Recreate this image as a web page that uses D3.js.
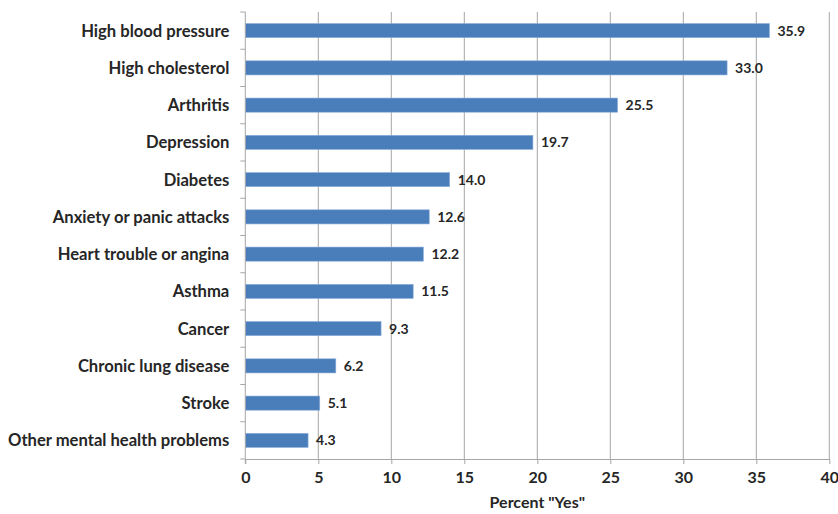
<!DOCTYPE html>
<html>
<head>
<meta charset="utf-8">
<script src="https://cdn.jsdelivr.net/npm/d3@7"></script>
<style>
  html, body { margin: 0; padding: 0; background: #fff; }
  svg text { font-family: Lato, "Open Sans", sans-serif; font-weight: 700; fill: #262626; }
</style>
</head>
<body>
<svg id="chart" width="838" height="514"></svg>
<script>
const categories = [
  "High blood pressure", "High cholesterol", "Arthritis", "Depression", "Diabetes",
  "Anxiety or panic attacks", "Heart trouble or angina", "Asthma", "Cancer",
  "Chronic lung disease", "Stroke", "Other mental health problems"
];
const values = [35.9, 33.0, 25.5, 19.7, 14.0, 12.6, 12.2, 11.5, 9.3, 6.2, 5.1, 4.3];
const xTicks = [0, 5, 10, 15, 20, 25, 30, 35, 40];
const xTitle = 'Percent "Yes"';

const svg = d3.select("#chart");
const margin = { left: 245.3, right: 838 - 829.3, top: 12, bottom: 514 - 459 };
const W = 838, H = 514;

const x = d3.scaleLinear().domain([0, 40]).range([margin.left, W - margin.right]);
const y = d3.scaleBand().domain(categories).range([margin.top, H - margin.bottom]).paddingInner(0.62).paddingOuter(0.31);

const gridColor = "#a6a6a6";

// vertical gridlines
svg.append("g").selectAll("line").data(xTicks.filter(d => d > 0)).join("line")
  .attr("x1", d => x(d)).attr("x2", d => x(d))
  .attr("y1", margin.top).attr("y2", H - margin.bottom)
  .attr("stroke", gridColor).attr("stroke-width", 1);

// bars
svg.append("g").selectAll("rect").data(values).join("rect")
  .attr("x", x(0))
  .attr("y", (d, i) => y(categories[i]))
  .attr("width", d => x(d) - x(0))
  .attr("height", y.bandwidth())
  .attr("fill", "#4a7ebb")
  .attr("stroke", "#8fb0dc").attr("stroke-width", 0.6);

// value labels
svg.append("g").selectAll("text").data(values).join("text")
  .attr("x", d => x(d) + 8)
  .attr("y", (d, i) => y(categories[i]) + y.bandwidth() / 2)
  .attr("dy", "0.36em")
  .attr("font-size", 14)
  .text(d => d.toFixed(1));

// y axis (category boundaries as ticks)
const yAxis = svg.append("g");
yAxis.append("line")
  .attr("x1", x(0)).attr("x2", x(0))
  .attr("y1", margin.top).attr("y2", H - margin.bottom + 5)
  .attr("stroke", gridColor);
const step = y.step();
yAxis.selectAll("line.tick").data(d3.range(categories.length + 1)).join("line")
  .attr("class", "tick")
  .attr("x1", x(0) - 5).attr("x2", x(0))
  .attr("y1", i => margin.top + i * step).attr("y2", i => margin.top + i * step)
  .attr("stroke", gridColor);
yAxis.selectAll("text").data(categories).join("text")
  .attr("x", x(0) - 16)
  .attr("y", d => y(d) + y.bandwidth() / 2)
  .attr("dy", "0.36em")
  .attr("text-anchor", "end")
  .attr("font-size", 16.6)
  .text(d => d);

// x axis
const xAxis = svg.append("g").attr("transform", `translate(0,${H - margin.bottom})`)
  .call(d3.axisBottom(x).tickValues(xTicks).tickSize(5).tickSizeOuter(0).tickPadding(8));
xAxis.select(".domain").attr("stroke", gridColor);
xAxis.selectAll(".tick line").attr("stroke", gridColor);
xAxis.selectAll(".tick text").attr("font-size", 16).attr("fill", "#262626")
  .style("font-family", "Lato, sans-serif").style("font-weight", 700);

svg.append("text")
  .attr("x", (x(0) + x(40)) / 2)
  .attr("y", 508)
  .attr("text-anchor", "middle")
  .attr("font-size", 16)
  .text(xTitle);
</script>
</body>
</html>
